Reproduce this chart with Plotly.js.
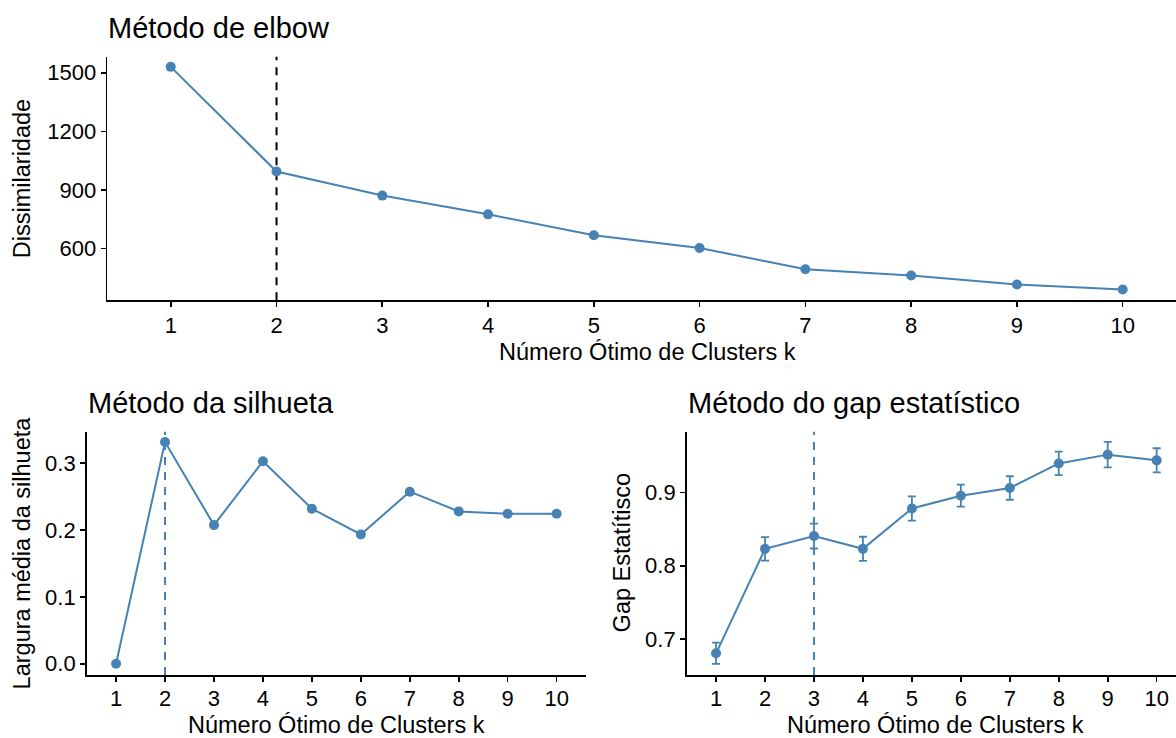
<!DOCTYPE html>
<html>
<head>
<meta charset="utf-8">
<script src="https://cdn.plot.ly/plotly-3.0.1.min.js"></script>
<style>
html,body{margin:0;padding:0;background:#ffffff;}
#chart{width:1176px;height:738px;}
</style>
</head>
<body>
<div id="chart"></div>
<script>
// ---- data ----
const clustersK = [1, 2, 3, 4, 5, 6, 7, 8, 9, 10];
const kTickLabels = ['1', '2', '3', '4', '5', '6', '7', '8', '9', '10'];
const elbowDissim = [1530, 994, 871, 775, 668, 603, 494, 462, 416, 390];
const silhouetteWidth = [0.0, 0.332, 0.2075, 0.303, 0.232, 0.1935, 0.2575, 0.228, 0.2245, 0.2245];
const gapStat = [0.6805, 0.823, 0.8405, 0.823, 0.878, 0.8955, 0.906, 0.9395, 0.9515, 0.9437];
const gapSE = [0.0145, 0.016, 0.017, 0.0165, 0.0165, 0.015, 0.016, 0.016, 0.0175, 0.0165];
const elbowTicks = [600, 900, 1200, 1500];
const silTicks = [0.0, 0.1, 0.2, 0.3];
const gapTicks = [0.7, 0.8, 0.9];
const elbowOptimalK = 2;
const silhouetteOptimalK = 2;
const gapOptimalK = 3;

// ---- styling ----
const W = 1176, H = 738;
const blue = '#4682B4';
const fam = '"Liberation Sans", Arial, Helvetica, sans-serif';
const tickSize = 22, axTitleSize = 23.5, titleSize = 29;
const fx = p => p / W;
const fy = p => 1 - p / H;

const lineStyle = {color: blue, width: 2};
const markerStyle = {color: blue, size: 10};

const traces = [
  {x: clustersK, y: elbowDissim, xaxis: 'x', yaxis: 'y', type: 'scatter', mode: 'lines+markers',
   line: lineStyle, marker: markerStyle, hoverinfo: 'skip'},
  {x: clustersK, y: silhouetteWidth, xaxis: 'x2', yaxis: 'y2', type: 'scatter', mode: 'lines+markers',
   line: lineStyle, marker: markerStyle, hoverinfo: 'skip'},
  {x: clustersK, y: gapStat, xaxis: 'x3', yaxis: 'y3', type: 'scatter', mode: 'lines+markers',
   line: lineStyle, marker: markerStyle, hoverinfo: 'skip',
   error_y: {type: 'data', array: gapSE, visible: true, color: blue, thickness: 1.8, width: 4}}
];

function xAxis(domain, range, anchor, standoff) {
  return {domain: domain, range: range, anchor: anchor, showline: true, linecolor: '#000', linewidth: 1.6,
    ticks: 'outside', ticklen: 5, tickwidth: 1.6, tickcolor: '#000', tickvals: clustersK, ticktext: kTickLabels,
    ticklabelstandoff: standoff,
    showgrid: false, zeroline: false, tickfont: {family: fam, size: tickSize, color: '#000'}, fixedrange: true};
}
function yAxis(domain, range, anchor, tickvals, fmt) {
  const a = {domain: domain, range: range, anchor: anchor, showline: true, linecolor: '#000', linewidth: 1.6,
    ticks: 'outside', ticklen: 5, tickwidth: 1.6, tickcolor: '#000', tickvals: tickvals,
    showgrid: false, zeroline: false, tickfont: {family: fam, size: tickSize, color: '#000'}, fixedrange: true};
  if (fmt) a.tickformat = fmt;
  return a;
}

function vline(xref, yref, xv, color) {
  return {type: 'line', xref: xref, yref: yref + ' domain', x0: xv, x1: xv, y0: 0, y1: 1,
    line: {color: color, width: 2, dash: '8px,7px'}, layer: 'below'};
}

function txt(text, x, y, size, opts) {
  return Object.assign({text: text, x: x, y: y, xref: 'paper', yref: 'paper', showarrow: false,
    font: {family: fam, size: size, color: '#000'}, xanchor: 'center', yanchor: 'middle', borderpad: 0}, opts || {});
}

const layout = {
  width: W, height: H,
  margin: {l: 0, r: 0, t: 0, b: 0},
  paper_bgcolor: '#ffffff', plot_bgcolor: '#ffffff',
  showlegend: false,
  font: {family: fam, color: '#000'},
  xaxis: xAxis([fx(107.3), 1], [0.4, 10.504], 'y', 0),
  yaxis: yAxis([fy(300.3), fy(56.7)], [335, 1582], 'x', elbowTicks, null),
  xaxis2: xAxis([fx(86.7), fx(586)], [0.4, 10.6], 'y2', -2),
  yaxis2: yAxis([fy(675), fy(431.7)], [-0.0169, 0.3473], 'x2', silTicks, '.1f'),
  xaxis3: xAxis([fx(686.7), 1], [0.4, 10.395], 'y3', -2),
  yaxis3: yAxis([fy(675), fy(431.7)], [0.6509, 0.9828], 'x3', gapTicks, '.1f'),
  shapes: [
    vline('x', 'y', elbowOptimalK, '#000'),
    vline('x2', 'y2', silhouetteOptimalK, blue),
    vline('x3', 'y3', gapOptimalK, blue)
  ],
  annotations: [
    txt('Método de elbow', fx(107), fy(27.7), titleSize, {xanchor: 'left'}),
    txt('Método da silhueta', fx(86.5), fy(402.8), titleSize, {xanchor: 'left'}),
    txt('Método do gap estatístico', fx(686.5), fy(402.8), titleSize, {xanchor: 'left'}),
    txt('Número Ótimo de Clusters k', fx(647.8), fy(351.7), axTitleSize),
    txt('Número Ótimo de Clusters k', fx(336.3), fy(724.5), axTitleSize),
    txt('Número Ótimo de Clusters k', fx(935), fy(724.5), axTitleSize),
    txt('Dissimilaridade', fx(21.7), fy(178.5), axTitleSize, {textangle: -90}),
    txt('Largura média da silhueta', fx(22), fy(553.4), axTitleSize, {textangle: -90}),
    txt('Gap Estatítisco', fx(622), fy(553.4), axTitleSize, {textangle: -90})
  ]
};

Plotly.newPlot('chart', traces, layout, {staticPlot: true, displayModeBar: false, responsive: false});
</script>
</body>
</html>
